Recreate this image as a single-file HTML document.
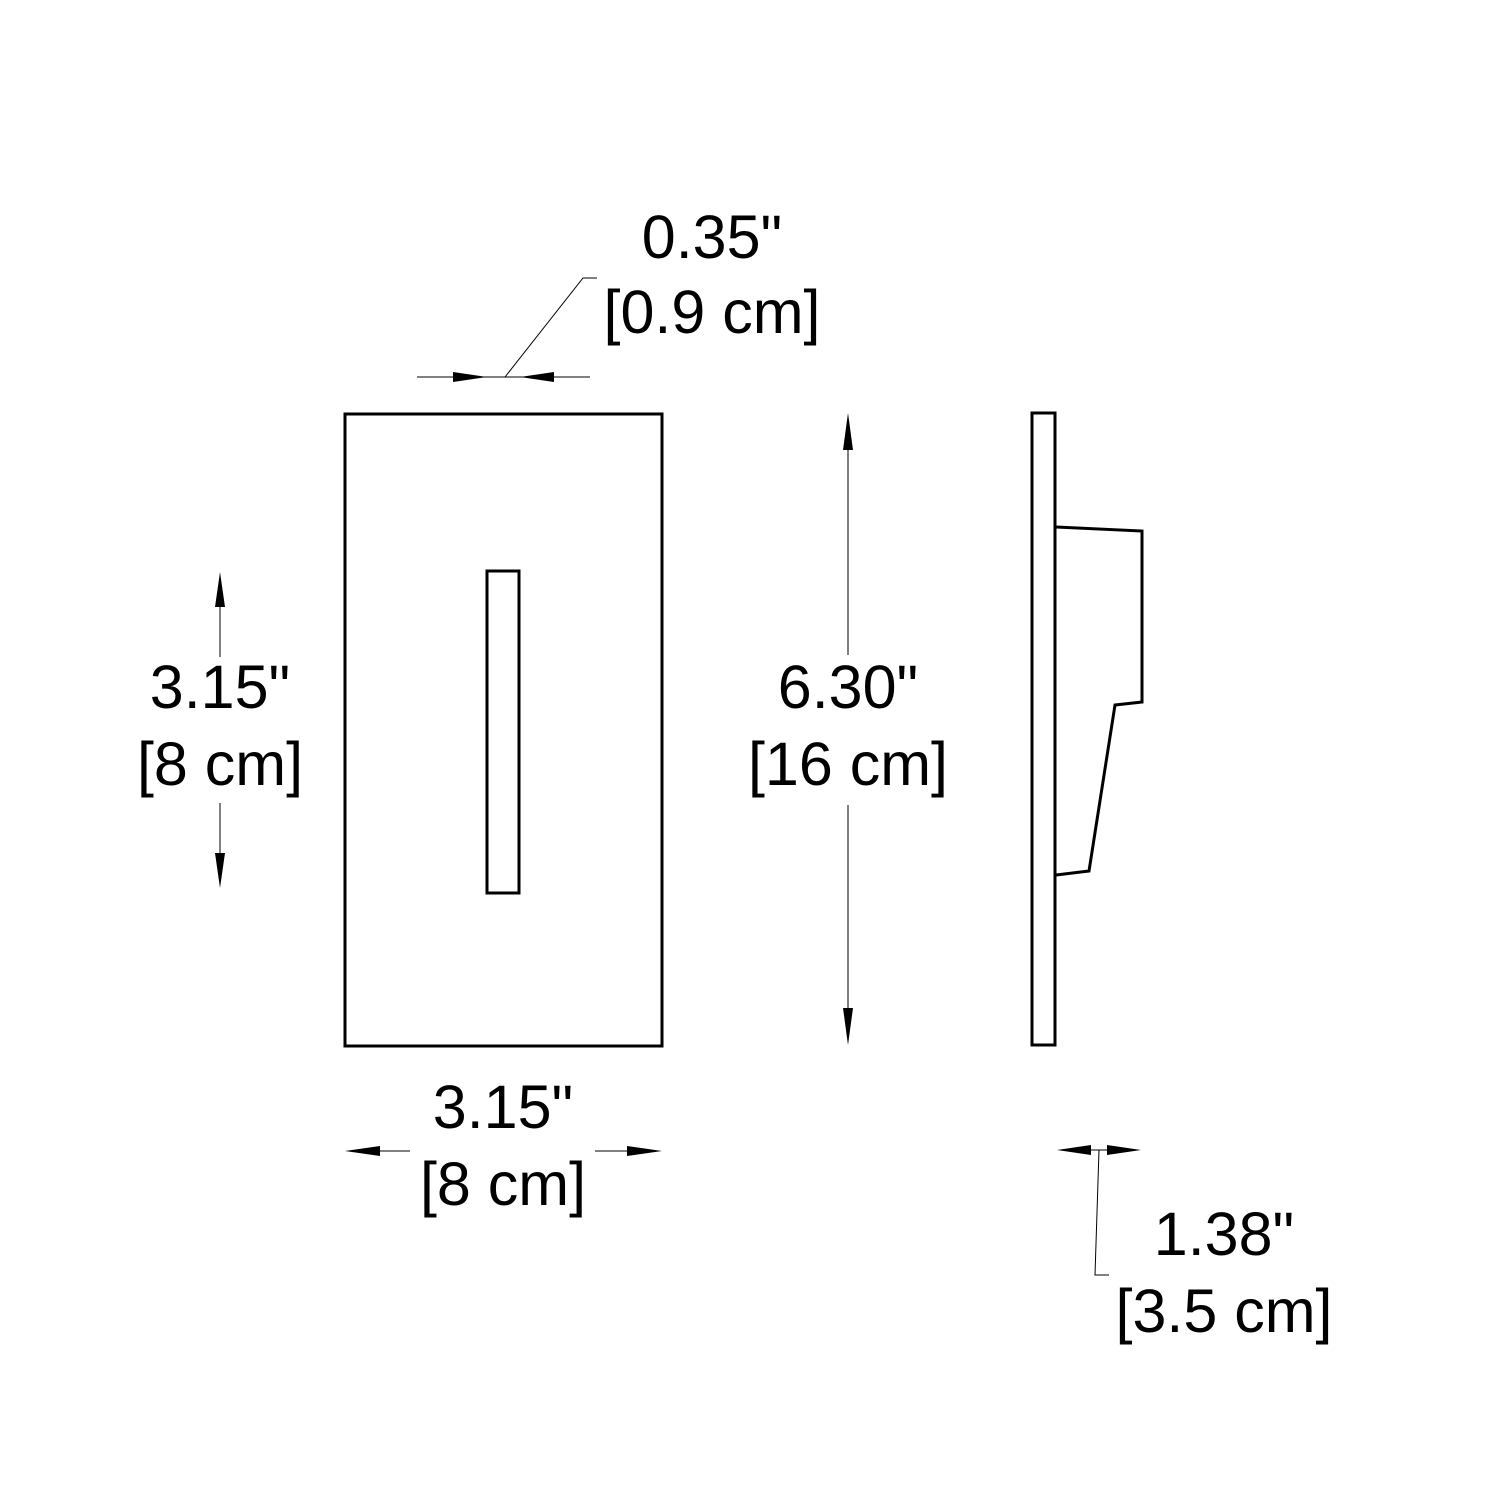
<!DOCTYPE html>
<html><head><style>body{margin:0;background:#fff}</style></head><body>
<svg width="1500" height="1500" xmlns="http://www.w3.org/2000/svg" style="display:block">
<rect width="1500" height="1500" fill="#fff"/>
<g fill="none" stroke="#000" stroke-width="3">
<rect x="345" y="414" width="317" height="632"/>
<rect x="487" y="571" width="32" height="322"/>
<rect x="1032" y="413" width="23" height="632"/>
<polyline points="1056,527 1142,531 1142,702 1115,705 1089,871 1056,875"/>
</g>
<g stroke="#000" stroke-width="1" fill="none">
<line x1="417" y1="377" x2="590" y2="377"/>
<polyline points="505,377 583,278 597,278"/>
<line x1="220" y1="600" x2="220" y2="657"/>
<line x1="220" y1="803" x2="220" y2="860"/>
<line x1="848" y1="440" x2="848" y2="655"/>
<line x1="848" y1="805" x2="848" y2="1020"/>
<line x1="370" y1="1151" x2="410" y2="1151"/>
<line x1="595" y1="1151" x2="640" y2="1151"/>
<line x1="1085" y1="1150" x2="1115" y2="1150"/>
<polyline points="1099,1150 1095,1275 1109,1275"/>
</g>
<g fill="#000">
<polygon points="453,372 487,377 453,382"/>
<polygon points="554,372 520,377 554,382"/>
<polygon points="220,572 215,607 225,607"/>
<polygon points="220,888 215,853 225,853"/>
<polygon points="848,413 843,450 853,450"/>
<polygon points="848,1045 843,1008 853,1008"/>
<polygon points="345,1151 380,1146 380,1156"/>
<polygon points="662,1151 627,1146 627,1156"/>
<polygon points="1057,1150 1091,1145 1091,1155"/>
<polygon points="1141,1150 1107,1145 1107,1155"/>
</g>
<g font-family="Liberation Sans, Arial, sans-serif" font-size="61" text-anchor="middle" fill="#000">
<text x="712" y="258">0.35"</text>
<text x="712" y="333">[0.9 cm]</text>
<text x="220" y="708">3.15"</text>
<text x="220" y="785">[8 cm]</text>
<text x="848" y="708">6.30"</text>
<text x="848" y="785">[16 cm]</text>
<text x="503" y="1128">3.15"</text>
<text x="503" y="1205">[8 cm]</text>
<text x="1224" y="1255">1.38"</text>
<text x="1224" y="1332">[3.5 cm]</text>
</g>
</svg>
</body></html>
